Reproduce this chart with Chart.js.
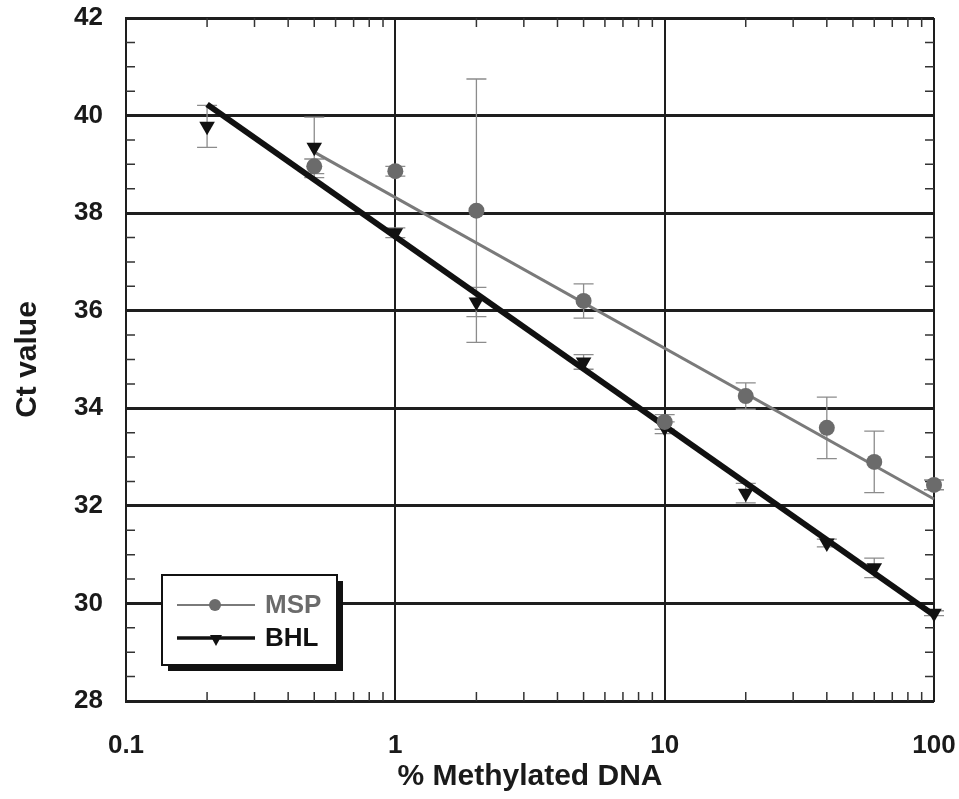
<!DOCTYPE html>
<html>
<head>
<meta charset="utf-8">
<script src="https://cdn.jsdelivr.net/npm/chart.js@4.4.1/dist/chart.umd.min.js"></script>
<style>
  html, body { margin: 0; padding: 0; background: #fff; }
  #wrap { width: 959px; height: 799px; }
</style>
</head>
<body>
<div id="wrap"><canvas id="ctChart"></canvas></div>
<script>
// % methylated DNA (x) vs Ct value (y)
const mspX = [0.5, 1, 2, 5, 10, 20, 40, 60, 100];
const mspCt = [38.96, 38.86, 38.05, 36.2, 33.72, 34.25, 33.6, 32.9, 32.43];
const mspErr = [0.15, 0.1, 2.7, 0.35, 0.15, 0.27, 0.63, 0.63, 0.1];

const bhlX = [0.2, 0.5, 1, 2, 5, 10, 20, 40, 60, 100];
const bhlCt = [39.78, 39.35, 37.6, 36.18, 34.95, 33.6, 32.26, 31.24, 30.73, 29.8];
const bhlErr = [0.43, 0.62, 0.1, 0.3, 0.15, 0.12, 0.2, 0.08, 0.2, 0.05];

// regression lines (end points)
const mspFitX = [0.5, 100];
const mspFitCt = [39.25, 32.14];
const bhlFitX = [0.2, 100];
const bhlFitCt = [40.23, 29.76];

const xTicks = [0.1, 1, 10, 100];
const yTicks = [28, 30, 32, 34, 36, 38, 40, 42];

const toPts = (xs, ys) => xs.map((v, i) => ({ x: v, y: ys[i] }));

const MSP_GREY = "#6b6b6b";
const tickFont = { family: "'Liberation Sans', Arial, sans-serif", size: 26, weight: "bold" };
const titleFont = { family: "'Liberation Sans', Arial, sans-serif", size: 30, weight: "bold" };

// error bars under the markers
const errorBars = {
  id: "errorBars",
  beforeDatasetsDraw(chart) {
    const { ctx, scales: { x, y } } = chart;
    ctx.save();
    ctx.strokeStyle = "#8c8c8c";
    ctx.lineWidth = 1.3;
    [[mspX, mspCt, mspErr], [bhlX, bhlCt, bhlErr]].forEach(([xs, ys, es]) => {
      xs.forEach((xv, i) => {
        const px = x.getPixelForValue(xv);
        const top = y.getPixelForValue(ys[i] + es[i]);
        const bot = y.getPixelForValue(ys[i] - es[i]);
        ctx.beginPath();
        ctx.moveTo(px, top); ctx.lineTo(px, bot);
        ctx.moveTo(px - 10, top); ctx.lineTo(px + 10, top);
        ctx.moveTo(px - 10, bot); ctx.lineTo(px + 10, bot);
        ctx.stroke();
      });
    });
    ctx.restore();
  }
};

// small inside ticks on all four sides
const minorTicks = {
  id: "minorTicks",
  beforeDatasetsDraw(chart) {
    const { ctx, chartArea: a, scales: { x, y } } = chart;
    ctx.save();
    ctx.strokeStyle = "#333";
    ctx.lineWidth = 1.5;
    ctx.beginPath();
    for (let v = 28.5; v < 42; v += 0.5) {
      if (v % 2 === 0) continue;
      const py = y.getPixelForValue(v);
      ctx.moveTo(a.left, py); ctx.lineTo(a.left + 9, py);
      ctx.moveTo(a.right, py); ctx.lineTo(a.right - 9, py);
    }
    for (let d = 0.1; d < 99; d *= 10) {
      for (let k = 2; k <= 9; k++) {
        const px = x.getPixelForValue(d * k);
        ctx.moveTo(px, a.bottom); ctx.lineTo(px, a.bottom - 9);
        ctx.moveTo(px, a.top); ctx.lineTo(px, a.top + 9);
      }
    }
    ctx.stroke();
    ctx.restore();
  }
};

// boxed legend with drop shadow, bottom-left inside plot
const boxLegend = {
  id: "boxLegend",
  afterDraw(chart) {
    const { ctx, chartArea: a } = chart;
    const bx = a.left + 36, by = a.bottom - 126, bw = 175, bh = 90;
    ctx.save();
    ctx.fillStyle = "#111";
    ctx.fillRect(bx + 6, by + 6, bw, bh);
    ctx.fillStyle = "#fff";
    ctx.fillRect(bx, by, bw, bh);
    ctx.strokeStyle = "#111";
    ctx.lineWidth = 2;
    ctx.strokeRect(bx, by, bw, bh);

    const rows = [
      { label: "MSP", color: MSP_GREY, line: "#7a7a7a", lw: 2, y: by + 30 },
      { label: "BHL", color: "#111", line: "#111", lw: 3.5, y: by + 63 }
    ];
    rows.forEach((r, i) => {
      ctx.strokeStyle = r.line;
      ctx.lineWidth = r.lw;
      ctx.beginPath();
      ctx.moveTo(bx + 15, r.y); ctx.lineTo(bx + 93, r.y);
      ctx.stroke();
      ctx.fillStyle = r.color;
      ctx.beginPath();
      if (i === 0) {
        ctx.arc(bx + 53, r.y, 6, 0, Math.PI * 2);
      } else {
        ctx.moveTo(bx + 48, r.y - 3); ctx.lineTo(bx + 60, r.y - 3); ctx.lineTo(bx + 54, r.y + 8);
        ctx.closePath();
      }
      ctx.fill();
      ctx.font = "bold 26px 'Liberation Sans', Arial, sans-serif";
      ctx.textBaseline = "middle";
      ctx.textAlign = "left";
      ctx.fillText(r.label, bx + 103, r.y + 1);
    });
    ctx.restore();
  }
};

new Chart(document.getElementById("ctChart").getContext("2d"), {
  type: "scatter",
  data: {
    datasets: [
      {
        label: "MSP",
        data: toPts(mspX, mspCt),
        pointStyle: "circle",
        pointRadius: 8,
        backgroundColor: MSP_GREY,
        borderColor: MSP_GREY,
        borderWidth: 0,
        clip: false
      },
      {
        label: "BHL",
        data: toPts(bhlX, bhlCt),
        pointStyle: "triangle",
        pointRotation: 180,
        pointRadius: 9,
        backgroundColor: "#111",
        borderColor: "#111",
        borderWidth: 0,
        clip: false
      },
      {
        label: "MSP fit",
        data: toPts(mspFitX, mspFitCt),
        showLine: true,
        borderColor: "#7a7a7a",
        borderWidth: 3,
        pointRadius: 0,
        clip: false
      },
      {
        label: "BHL fit",
        data: toPts(bhlFitX, bhlFitCt),
        showLine: true,
        borderColor: "#111",
        borderWidth: 6,
        pointRadius: 0,
        clip: false
      }
    ]
  },
  options: {
    responsive: true,
    maintainAspectRatio: false,
    animation: false,
    layout: { padding: { top: 18, right: 25, left: 0, bottom: 0 } },
    plugins: {
      legend: { display: false },
      tooltip: { enabled: false }
    },
    scales: {
      x: {
        type: "logarithmic",
        min: 0.1,
        max: 100,
        afterBuildTicks: (s) => { s.ticks = xTicks.map((v) => ({ value: v })); },
        afterFit: (s) => {
          s.height = 98;
          s.paddingLeft = 0; s.paddingRight = 0;
        },
        ticks: {
          autoSkip: false,
          maxRotation: 0,
          padding: 29,
          color: "#1a1a1a",
          font: tickFont,
          callback: (v) => String(v)
        },
        grid: { color: "#1e1e1e", lineWidth: 2, drawTicks: false },
        border: { color: "#1e1e1e", width: 2 },
        title: {
          display: true,
          text: "% Methylated DNA",
          color: "#1a1a1a",
          font: titleFont,
          padding: { top: 0, bottom: 4 }
        }
      },
      y: {
        min: 28,
        max: 42,
        afterBuildTicks: (s) => { s.ticks = yTicks.map((v) => ({ value: v })); },
        afterFit: (s) => {
          s.width = 126;
          s.paddingTop = 0; s.paddingBottom = 0;
        },
        ticks: {
          padding: 23,
          color: "#1a1a1a",
          font: tickFont
        },
        grid: { color: "#1e1e1e", lineWidth: 3, drawTicks: false },
        border: { color: "#1e1e1e", width: 2 },
        title: {
          display: true,
          text: "Ct value",
          color: "#1a1a1a",
          font: titleFont,
          padding: { top: 10, bottom: 0 }
        }
      }
    }
  },
  plugins: [errorBars, minorTicks, boxLegend]
});
</script>
</body>
</html>
